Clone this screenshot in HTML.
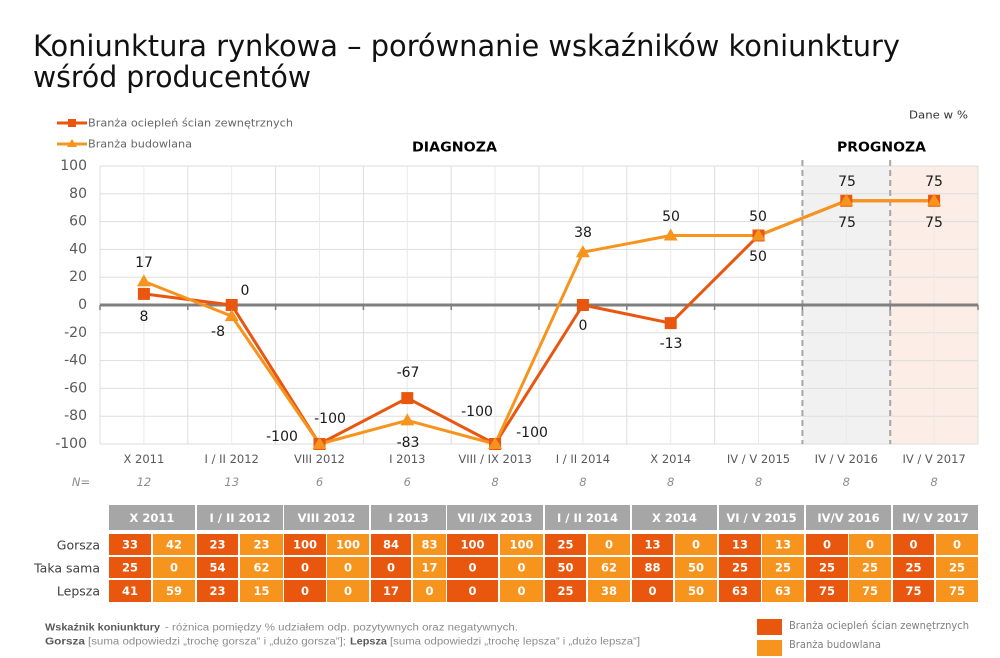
<!DOCTYPE html>
<html><head><meta charset="utf-8"><style>
html,body{margin:0;padding:0;background:#fff;}
svg{display:block;}
</style></head><body>
<svg width="1000" height="658" viewBox="0 0 1000 658" xmlns="http://www.w3.org/2000/svg">
<rect width="1000" height="658" fill="#fff"/>
<!-- Title -->
<g font-family="DejaVu Sans, Liberation Sans, sans-serif" font-size="29" fill="#111">
<text x="33" y="56" textLength="867" lengthAdjust="spacingAndGlyphs">Koniunktura rynkowa – porównanie wskaźników koniunktury</text>
<text x="33" y="87" textLength="278" lengthAdjust="spacingAndGlyphs">wśród producentów</text>
</g>
<!-- Top legend -->
<line x1="57" y1="123" x2="87" y2="123" stroke="#E8560F" stroke-width="3"/>
<rect x="68" y="119" width="8" height="8" fill="#E8560F"/>
<line x1="57" y1="144" x2="87" y2="144" stroke="#F7941D" stroke-width="3"/>
<polygon points="72,139 77,147 67,147" fill="#F7941D"/>
<g font-family="DejaVu Sans, sans-serif" font-size="11" fill="#666" dominant-baseline="central">
<text x="88" y="123" textLength="205" lengthAdjust="spacingAndGlyphs">Branża ociepleń ścian zewnętrznych</text>
<text x="88" y="144" textLength="104" lengthAdjust="spacingAndGlyphs">Branża budowlana</text>
<text x="909" y="115" textLength="59" lengthAdjust="spacingAndGlyphs" fill="#333">Dane w %</text>
</g>
<g font-family="DejaVu Sans, sans-serif" font-size="13" font-weight="bold" fill="#000" dominant-baseline="central">
<text x="412" y="148" textLength="85" lengthAdjust="spacingAndGlyphs">DIAGNOZA</text>
<text x="837" y="148" textLength="89" lengthAdjust="spacingAndGlyphs">PROGNOZA</text>
</g>
<!-- Shaded regions -->
<rect x="802.4" y="166" width="87.8" height="278" fill="#F1F1F1"/>
<rect x="890.2" y="166" width="87.8" height="278" fill="#FCEDE6"/>
<!-- Grid -->
<g stroke="#DDDDDD" stroke-width="1">
<line x1="100" y1="166" x2="978" y2="166"/>
<line x1="100" y1="193.8" x2="978" y2="193.8"/>
<line x1="100" y1="221.6" x2="978" y2="221.6"/>
<line x1="100" y1="249.4" x2="978" y2="249.4"/>
<line x1="100" y1="277.2" x2="978" y2="277.2"/>
<line x1="100" y1="332.8" x2="978" y2="332.8"/>
<line x1="100" y1="360.6" x2="978" y2="360.6"/>
<line x1="100" y1="388.4" x2="978" y2="388.4"/>
<line x1="100" y1="416.2" x2="978" y2="416.2"/>
<line x1="100" y1="444" x2="978" y2="444"/>
<line x1="100" y1="166" x2="100" y2="444"/>
<line x1="187.8" y1="166" x2="187.8" y2="444"/>
<line x1="275.6" y1="166" x2="275.6" y2="444"/>
<line x1="363.4" y1="166" x2="363.4" y2="444"/>
<line x1="451.2" y1="166" x2="451.2" y2="444"/>
<line x1="539" y1="166" x2="539" y2="444"/>
<line x1="626.8" y1="166" x2="626.8" y2="444"/>
<line x1="714.6" y1="166" x2="714.6" y2="444"/>
<line x1="978" y1="166" x2="978" y2="444"/>
</g>
<g stroke="#EAEAEA" stroke-width="1">
<line x1="143.9" y1="166" x2="143.9" y2="444"/>
<line x1="231.7" y1="166" x2="231.7" y2="444"/>
<line x1="319.5" y1="166" x2="319.5" y2="444"/>
<line x1="407.3" y1="166" x2="407.3" y2="444"/>
<line x1="495.1" y1="166" x2="495.1" y2="444"/>
<line x1="582.9" y1="166" x2="582.9" y2="444"/>
<line x1="670.7" y1="166" x2="670.7" y2="444"/>
<line x1="758.5" y1="166" x2="758.5" y2="444"/>
<line x1="846.3" y1="166" x2="846.3" y2="444"/>
<line x1="934.1" y1="166" x2="934.1" y2="444"/>
</g>
<!-- Dashed separators -->
<g stroke="#A6A6A6" stroke-width="2" stroke-dasharray="6,4">
<line x1="802.4" y1="160" x2="802.4" y2="444"/>
<line x1="890.2" y1="160" x2="890.2" y2="444"/>
</g>
<!-- Zero axis -->
<line x1="100" y1="305" x2="978" y2="305" stroke="#7F7F7F" stroke-width="3"/>
<g stroke="#7F7F7F" stroke-width="1.5">
<line x1="100" y1="305" x2="100" y2="310"/>
<line x1="187.8" y1="305" x2="187.8" y2="310"/>
<line x1="275.6" y1="305" x2="275.6" y2="310"/>
<line x1="363.4" y1="305" x2="363.4" y2="310"/>
<line x1="451.2" y1="305" x2="451.2" y2="310"/>
<line x1="539" y1="305" x2="539" y2="310"/>
<line x1="626.8" y1="305" x2="626.8" y2="310"/>
<line x1="714.6" y1="305" x2="714.6" y2="310"/>
<line x1="802.4" y1="305" x2="802.4" y2="310"/>
<line x1="890.2" y1="305" x2="890.2" y2="310"/>
<line x1="978" y1="305" x2="978" y2="310"/>
</g>
<!-- Y axis labels -->
<g font-family="DejaVu Sans, sans-serif" font-size="14" fill="#595959" text-anchor="end" dominant-baseline="central">
<text x="87" y="166">100</text>
<text x="87" y="193.8">80</text>
<text x="87" y="221.6">60</text>
<text x="87" y="249.4">40</text>
<text x="87" y="277.2">20</text>
<text x="87" y="305">0</text>
<text x="87" y="332.8">-20</text>
<text x="87" y="360.6">-40</text>
<text x="87" y="388.4">-60</text>
<text x="87" y="416.2">-80</text>
<text x="87" y="444">-100</text>
</g>
<!-- X labels -->
<g font-family="DejaVu Sans, sans-serif" font-size="11.5" fill="#595959" text-anchor="middle" dominant-baseline="central">
<text x="143.9" y="459">X 2011</text>
<text x="231.7" y="459">I / II 2012</text>
<text x="319.5" y="459">VIII 2012</text>
<text x="407.3" y="459">I 2013</text>
<text x="495.1" y="459">VIII / IX 2013</text>
<text x="582.9" y="459">I / II 2014</text>
<text x="670.7" y="459">X 2014</text>
<text x="758.5" y="459">IV / V 2015</text>
<text x="846.3" y="459">IV / V 2016</text>
<text x="934.1" y="459">IV / V 2017</text>
</g>
<g font-family="DejaVu Sans, sans-serif" font-size="11.5" font-style="italic" fill="#8C8C8C" text-anchor="middle" dominant-baseline="central">
<text x="81" y="482">N=</text>
<text x="143.9" y="482">12</text>
<text x="231.7" y="482">13</text>
<text x="319.5" y="482">6</text>
<text x="407.3" y="482">6</text>
<text x="495.1" y="482">8</text>
<text x="582.9" y="482">8</text>
<text x="670.7" y="482">8</text>
<text x="758.5" y="482">8</text>
<text x="846.3" y="482">8</text>
<text x="934.1" y="482">8</text>
</g>
<!-- Series 1 -->
<polyline fill="none" stroke="#E8560F" stroke-width="3" stroke-linejoin="round" points="143.9,293.9 231.7,305 319.5,444 407.3,398.1 495.1,444 582.9,305 670.7,323.1 758.5,235.5 846.3,200.75 934.1,200.75"/>
<!-- Series 2 -->
<polyline fill="none" stroke="#F7941D" stroke-width="3" stroke-linejoin="round" points="143.9,281.4 231.7,316.1 319.5,444 407.3,420.4 495.1,444 582.9,252.2 670.7,235.5 758.5,235.5 846.3,200.75 934.1,200.75"/>
<g fill="#E8560F">
<rect x="137.9" y="287.9" width="12" height="12"/>
<rect x="225.7" y="299" width="12" height="12"/>
<rect x="313.5" y="438" width="12" height="12"/>
<rect x="401.3" y="392.1" width="12" height="12"/>
<rect x="489.1" y="438" width="12" height="12"/>
<rect x="576.9" y="299" width="12" height="12"/>
<rect x="664.7" y="317.1" width="12" height="12"/>
<rect x="752.5" y="229.5" width="12" height="12"/>
<rect x="840.3" y="194.75" width="12" height="12"/>
<rect x="928.1" y="194.75" width="12" height="12"/>
</g>
<g fill="#F7941D">
<polygon points="143.9,274.4 150.9,286.4 136.9,286.4"/>
<polygon points="231.7,309.1 238.7,321.1 224.7,321.1"/>
<polygon points="319.5,437 326.5,449 312.5,449"/>
<polygon points="407.3,413.4 414.3,425.4 400.3,425.4"/>
<polygon points="495.1,437 502.1,449 488.1,449"/>
<polygon points="582.9,245.2 589.9,257.2 575.9,257.2"/>
<polygon points="670.7,228.5 677.7,240.5 663.7,240.5"/>
<polygon points="758.5,228.5 765.5,240.5 751.5,240.5"/>
<polygon points="846.3,193.75 853.3,205.75 839.3,205.75"/>
<polygon points="934.1,193.75 941.1,205.75 927.1,205.75"/>
</g>
<!-- Data labels -->
<g font-family="DejaVu Sans, sans-serif" font-size="14" fill="#1a1a1a" text-anchor="middle" dominant-baseline="central">
<text x="144" y="263">17</text>
<text x="144" y="317">8</text>
<text x="245" y="291">0</text>
<text x="218" y="332">-8</text>
<text x="282" y="437">-100</text>
<text x="330" y="419">-100</text>
<text x="408" y="373">-67</text>
<text x="408" y="443">-83</text>
<text x="477" y="412">-100</text>
<text x="532" y="433">-100</text>
<text x="583" y="233">38</text>
<text x="583" y="326">0</text>
<text x="671" y="217">50</text>
<text x="671" y="344">-13</text>
<text x="758" y="217">50</text>
<text x="758" y="257">50</text>
<text x="847" y="182">75</text>
<text x="847" y="223">75</text>
<text x="934" y="182">75</text>
<text x="934" y="223">75</text>
</g>
<!-- Table header -->
<g fill="#A6A6A6">
<rect x="109" y="505" width="86" height="25"/>
<rect x="197" y="505" width="86" height="25"/>
<rect x="284" y="505" width="85" height="25"/>
<rect x="371" y="505" width="75" height="25"/>
<rect x="447" y="505" width="96" height="25"/>
<rect x="545" y="505" width="85" height="25"/>
<rect x="632" y="505" width="85" height="25"/>
<rect x="719" y="505" width="85" height="25"/>
<rect x="806" y="505" width="85" height="25"/>
<rect x="893" y="505" width="85" height="25"/>
</g>
<g font-family="DejaVu Sans, sans-serif" font-size="11.5" font-weight="bold" fill="#fff" text-anchor="middle" dominant-baseline="central">
<text x="152" y="518">X 2011</text>
<text x="240" y="518">I / II 2012</text>
<text x="326.5" y="518">VIII 2012</text>
<text x="408.5" y="518">I 2013</text>
<text x="495" y="518">VII /IX 2013</text>
<text x="587.5" y="518">I / II 2014</text>
<text x="674.5" y="518">X 2014</text>
<text x="761.5" y="518">VI / V 2015</text>
<text x="848.5" y="518">IV/V 2016</text>
<text x="935.5" y="518">IV/ V 2017</text>
</g>
<!-- Table cells -->
<g fill="#E9560D">
<rect x="109" y="534" width="42" height="21"/><rect x="109" y="557" width="42" height="21"/><rect x="109" y="580" width="42" height="22"/>
<rect x="197" y="534" width="41" height="21"/><rect x="197" y="557" width="41" height="21"/><rect x="197" y="580" width="41" height="22"/>
<rect x="284" y="534" width="42" height="21"/><rect x="284" y="557" width="42" height="21"/><rect x="284" y="580" width="42" height="22"/>
<rect x="371" y="534" width="40" height="21"/><rect x="371" y="557" width="40" height="21"/><rect x="371" y="580" width="40" height="22"/>
<rect x="447" y="534" width="51" height="21"/><rect x="447" y="557" width="51" height="21"/><rect x="447" y="580" width="51" height="22"/>
<rect x="545" y="534" width="41" height="21"/><rect x="545" y="557" width="41" height="21"/><rect x="545" y="580" width="41" height="22"/>
<rect x="632" y="534" width="41" height="21"/><rect x="632" y="557" width="41" height="21"/><rect x="632" y="580" width="41" height="22"/>
<rect x="719" y="534" width="42" height="21"/><rect x="719" y="557" width="42" height="21"/><rect x="719" y="580" width="42" height="22"/>
<rect x="806" y="534" width="42" height="21"/><rect x="806" y="557" width="42" height="21"/><rect x="806" y="580" width="42" height="22"/>
<rect x="893" y="534" width="41" height="21"/><rect x="893" y="557" width="41" height="21"/><rect x="893" y="580" width="41" height="22"/>
</g>
<g fill="#F7941E">
<rect x="153" y="534" width="42" height="21"/><rect x="153" y="557" width="42" height="21"/><rect x="153" y="580" width="42" height="22"/>
<rect x="240" y="534" width="43" height="21"/><rect x="240" y="557" width="43" height="21"/><rect x="240" y="580" width="43" height="22"/>
<rect x="327" y="534" width="42" height="21"/><rect x="327" y="557" width="42" height="21"/><rect x="327" y="580" width="42" height="22"/>
<rect x="413" y="534" width="33" height="21"/><rect x="413" y="557" width="33" height="21"/><rect x="413" y="580" width="33" height="22"/>
<rect x="500" y="534" width="43" height="21"/><rect x="500" y="557" width="43" height="21"/><rect x="500" y="580" width="43" height="22"/>
<rect x="588" y="534" width="42" height="21"/><rect x="588" y="557" width="42" height="21"/><rect x="588" y="580" width="42" height="22"/>
<rect x="675" y="534" width="42" height="21"/><rect x="675" y="557" width="42" height="21"/><rect x="675" y="580" width="42" height="22"/>
<rect x="762" y="534" width="42" height="21"/><rect x="762" y="557" width="42" height="21"/><rect x="762" y="580" width="42" height="22"/>
<rect x="849" y="534" width="42" height="21"/><rect x="849" y="557" width="42" height="21"/><rect x="849" y="580" width="42" height="22"/>
<rect x="936" y="534" width="42" height="21"/><rect x="936" y="557" width="42" height="21"/><rect x="936" y="580" width="42" height="22"/>
</g>
<g font-family="DejaVu Sans, sans-serif" font-size="11.5" font-weight="bold" fill="#fff" text-anchor="middle" dominant-baseline="central">
<text x="130" y="544.5">33</text><text x="174" y="544.5">42</text>
<text x="217.5" y="544.5">23</text><text x="261.5" y="544.5">23</text>
<text x="305" y="544.5">100</text><text x="348" y="544.5">100</text>
<text x="391" y="544.5">84</text><text x="429.5" y="544.5">83</text>
<text x="472.5" y="544.5">100</text><text x="521.5" y="544.5">100</text>
<text x="565.5" y="544.5">25</text><text x="609" y="544.5">0</text>
<text x="652.5" y="544.5">13</text><text x="696" y="544.5">0</text>
<text x="740" y="544.5">13</text><text x="783" y="544.5">13</text>
<text x="827" y="544.5">0</text><text x="870" y="544.5">0</text>
<text x="913.5" y="544.5">0</text><text x="957" y="544.5">0</text>

<text x="130" y="567.5">25</text><text x="174" y="567.5">0</text>
<text x="217.5" y="567.5">54</text><text x="261.5" y="567.5">62</text>
<text x="305" y="567.5">0</text><text x="348" y="567.5">0</text>
<text x="391" y="567.5">0</text><text x="429.5" y="567.5">17</text>
<text x="472.5" y="567.5">0</text><text x="521.5" y="567.5">0</text>
<text x="565.5" y="567.5">50</text><text x="609" y="567.5">62</text>
<text x="652.5" y="567.5">88</text><text x="696" y="567.5">50</text>
<text x="740" y="567.5">25</text><text x="783" y="567.5">25</text>
<text x="827" y="567.5">25</text><text x="870" y="567.5">25</text>
<text x="913.5" y="567.5">25</text><text x="957" y="567.5">25</text>

<text x="130" y="591">41</text><text x="174" y="591">59</text>
<text x="217.5" y="591">23</text><text x="261.5" y="591">15</text>
<text x="305" y="591">0</text><text x="348" y="591">0</text>
<text x="391" y="591">17</text><text x="429.5" y="591">0</text>
<text x="472.5" y="591">0</text><text x="521.5" y="591">0</text>
<text x="565.5" y="591">25</text><text x="609" y="591">38</text>
<text x="652.5" y="591">0</text><text x="696" y="591">50</text>
<text x="740" y="591">63</text><text x="783" y="591">63</text>
<text x="827" y="591">75</text><text x="870" y="591">75</text>
<text x="913.5" y="591">75</text><text x="957" y="591">75</text>
</g>
<!-- Row labels -->
<g font-family="DejaVu Sans, sans-serif" font-size="12.5" fill="#404040" text-anchor="end" dominant-baseline="central">
<text x="100" y="545">Gorsza</text>
<text x="100" y="568">Taka sama</text>
<text x="100" y="591">Lepsza</text>
</g>
<!-- Footer note -->
<g font-family="Liberation Sans, DejaVu Sans, sans-serif" font-size="10" dominant-baseline="central">
<text x="45" y="628" font-weight="bold" fill="#595959" textLength="115" lengthAdjust="spacingAndGlyphs">Wskaźnik koniunktury</text>
<text x="165" y="628" fill="#8C8C8C" textLength="353" lengthAdjust="spacingAndGlyphs">- różnica pomiędzy % udziałem odp. pozytywnych oraz negatywnych.</text>
<text x="45" y="642" font-weight="bold" fill="#595959" textLength="40" lengthAdjust="spacingAndGlyphs">Gorsza</text>
<text x="88" y="642" fill="#8C8C8C" textLength="258" lengthAdjust="spacingAndGlyphs">[suma odpowiedzi „trochę gorsza” i „dużo gorsza”];</text>
<text x="350" y="642" font-weight="bold" fill="#595959" textLength="37" lengthAdjust="spacingAndGlyphs">Lepsza</text>
<text x="390" y="642" fill="#8C8C8C" textLength="250" lengthAdjust="spacingAndGlyphs">[suma odpowiedzi „trochę lepsza” i „dużo lepsza”]</text>
</g>
<!-- Footer legend -->
<rect x="757" y="619" width="25" height="16" fill="#E9560D"/>
<rect x="757" y="640" width="25" height="16" fill="#F7941E"/>
<g font-family="DejaVu Sans, sans-serif" font-size="10.5" fill="#808080" dominant-baseline="central">
<text x="789" y="626" textLength="180" lengthAdjust="spacingAndGlyphs">Branża ociepleń ścian zewnętrznych</text>
<text x="789" y="645" textLength="92" lengthAdjust="spacingAndGlyphs">Branża budowlana</text>
</g>
</svg>
</body></html>
